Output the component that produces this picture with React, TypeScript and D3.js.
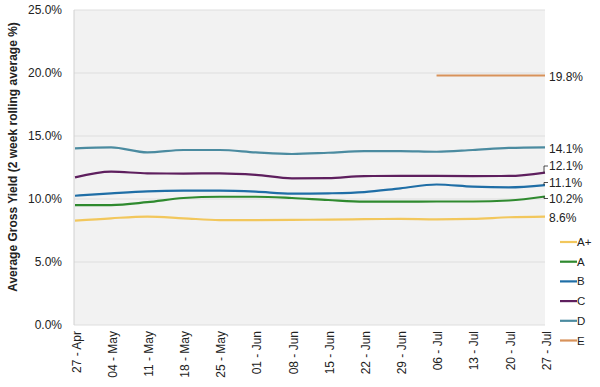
import React from 'react';
import { scaleLinear, scalePoint, line, curveMonotoneX } from 'd3';

const weeks = ['27 - Apr', '04 - May', '11 - May', '18 - May', '25 - May', '01 - Jun', '08 - Jun',
  '15 - Jun', '22 - Jun', '29 - Jun', '06 - Jul', '13 - Jul', '20 - Jul', '27 - Jul'];

const aPlus = [8.28, 8.47, 8.6, 8.47, 8.33, 8.33, 8.35, 8.36, 8.4, 8.42, 8.39, 8.42, 8.55, 8.6];
const gradeA = [9.52, 9.52, 9.75, 10.08, 10.18, 10.18, 10.08, 9.92, 9.79, 9.79, 9.8, 9.8, 9.88, 10.2];
const gradeB = [10.26, 10.45, 10.61, 10.66, 10.66, 10.58, 10.42, 10.45, 10.55, 10.85, 11.15, 10.98, 10.92, 11.1];
const gradeC = [11.72, 12.17, 12.04, 12.02, 12.04, 11.92, 11.64, 11.66, 11.82, 11.83, 11.83, 11.82, 11.83, 12.1];
const gradeD = [14.02, 14.1, 13.7, 13.89, 13.89, 13.7, 13.57, 13.67, 13.8, 13.8, 13.75, 13.89, 14.05, 14.1];
const gradeE: (number | null)[] = [null, null, null, null, null, null, null, null, null, null, 19.8, 19.8, 19.8, 19.8];

const yTicks = [0, 5, 10, 15, 20, 25];

const series = [
  { name: 'A+', values: aPlus as (number | null)[], color: '#f2c75c', label: '8.6%', ly: 217.5 },
  { name: 'A', values: gradeA as (number | null)[], color: '#2f8a2f', label: '10.2%', ly: 198.5 },
  { name: 'B', values: gradeB as (number | null)[], color: '#1f6ea6', label: '11.1%', ly: 182.5 },
  { name: 'C', values: gradeC as (number | null)[], color: '#5e1f5e', label: '12.1%', ly: 166 },
  { name: 'D', values: gradeD as (number | null)[], color: '#4b8ba0', label: '14.1%', ly: 149 },
  { name: 'E', values: gradeE, color: '#d8925a', label: '19.8%', ly: 77 },
];

const W = 600, H = 387;
const left = 74, right = 545, top = 10, bottom = 325;

export default function App() {
  const x = scalePoint<string>().domain(weeks).range([left + 1, right]).padding(0);
  const y = scaleLinear().domain([0, 25]).range([bottom, top]);

  const gen = line<number | null>()
    .defined(d => d != null)
    .x((_, i) => x(weeks[i]) as number)
    .y(d => y(d as number))
    .curve(curveMonotoneX);

  const font = 'Liberation Sans, Arial, sans-serif';

  return (
    <svg width={W} height={H} style={{ position: 'absolute', left: 0, top: 0, background: '#fff' }} fontFamily={font}>
      <rect x={left} y={top} width={right - left} height={bottom - top} fill="#f2f2f2" />
      {yTicks.map(t => (
        <g key={t}>
          <line x1={left} x2={right} y1={y(t)} y2={y(t)} stroke="#dedede" strokeWidth={1} />
          <text x={62} y={y(t)} dy="0.35em" textAnchor="end" fontSize={12} fill="#222">{t.toFixed(1)}%</text>
        </g>
      ))}
      <line x1={left} x2={left} y1={top} y2={bottom} stroke="#d0d0d0" />
      <text transform={`translate(17,157) rotate(-90)`} textAnchor="middle" fontSize={12} fontWeight="bold" fill="#222">
        Average Gross Yield (2 week rolling average %)
      </text>
      {weeks.map(w => (
        <text key={w} transform={`translate(${(x(w) as number) + 1.5},331) rotate(-90)`} dy="0.35em" textAnchor="end" fontSize={12} fill="#222">{w}</text>
      ))}
      {series.map(s => (
        <path key={s.name} d={gen(s.values) || ''} fill="none" stroke={s.color} strokeWidth={2.2} />
      ))}
      {series.map(s => {
        const last = s.values[s.values.length - 1] as number;
        const yl = y(last);
        const needLeader = Math.abs(yl - s.ly) > 2;
        return (
          <g key={s.name + 'l'}>
            {needLeader && <path d={`M${right - 1},${yl} V${s.ly} H${right + 3}`} fill="none" stroke="#222" strokeWidth={0.8} />}
            <text x={549} y={s.ly} dy="0.35em" fontSize={12} fill="#222">{s.label}</text>
          </g>
        );
      })}
      {series.map((s, i) => {
        const ly = 242 + i * 19.7;
        return (
          <g key={s.name + 'g'}>
            <line x1={560} x2={577} y1={ly} y2={ly} stroke={s.color} strokeWidth={2.2} />
            <text x={577} y={ly} dy="0.35em" fontSize={11.5} fill="#222">{s.name}</text>
          </g>
        );
      })}
    </svg>
  );
}
